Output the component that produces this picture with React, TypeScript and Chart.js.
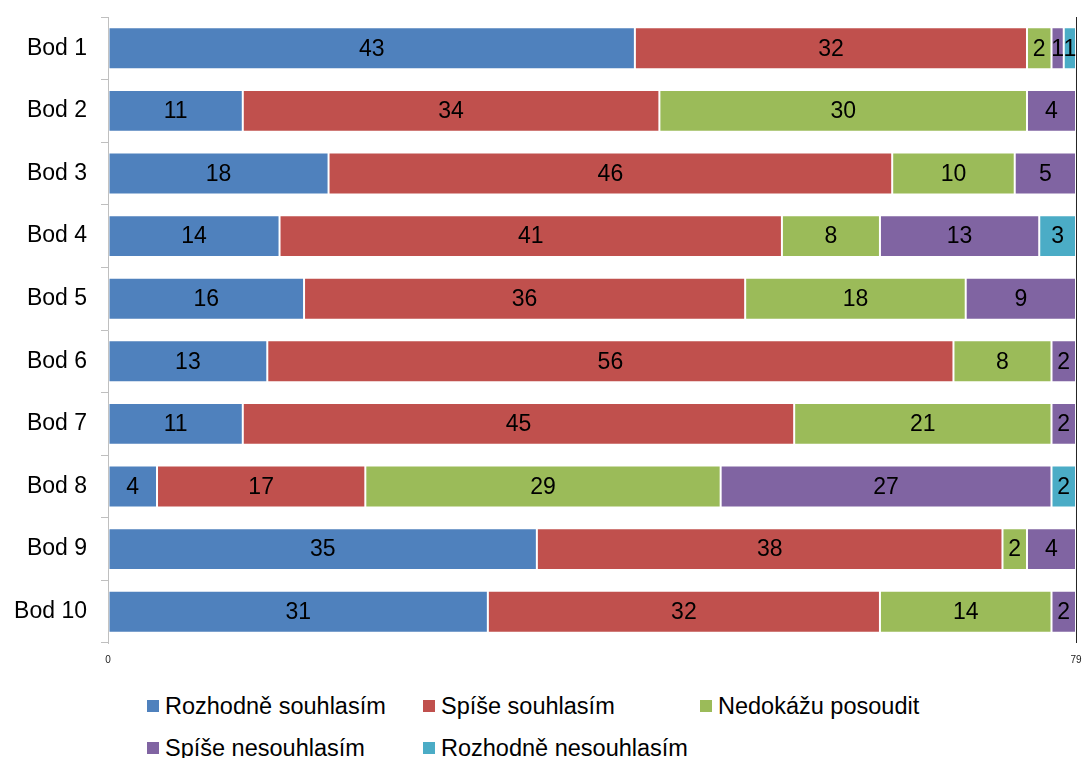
import React, { useEffect, useRef } from "react";
import { Chart, registerables } from "chart.js";

Chart.register(...registerables);

const FONT = '"Liberation Sans", Arial, sans-serif';

const categories = ["Bod 1", "Bod 2", "Bod 3", "Bod 4", "Bod 5", "Bod 6", "Bod 7", "Bod 8", "Bod 9", "Bod 10"];
const seriesNames = ["Rozhodně souhlasím", "Spíše souhlasím", "Nedokážu posoudit", "Spíše nesouhlasím", "Rozhodně nesouhlasím"];
const seriesColors = ["#4F81BD", "#C0504D", "#9BBB59", "#8064A2", "#4BACC6"];

const rozhodneSouhlasim = [43, 11, 18, 14, 16, 13, 11, 4, 35, 31];
const spiseSouhlasim = [32, 34, 46, 41, 36, 56, 45, 17, 38, 32];
const nedokazuPosoudit = [2, 30, 10, 8, 18, 8, 21, 29, 2, 14];
const spiseNesouhlasim = [1, 4, 5, 13, 9, 2, 2, 27, 4, 2];
const rozhodneNesouhlasim = [1, 0, 0, 3, 0, 0, 0, 2, 0, 0];

const xTicks = [0, 79];

const seriesValues = [rozhodneSouhlasim, spiseSouhlasim, nedokazuPosoudit, spiseNesouhlasim, rozhodneNesouhlasim];

const CANVAS_H = 680;

const labelPlugin = {
  id: "segLabels",
  afterDatasetsDraw(chart: any) {
    const ctx = chart.ctx;
    ctx.save();
    ctx.font = `23px ${FONT}`;
    ctx.fillStyle = "#000";
    ctx.textAlign = "center";
    ctx.textBaseline = "middle";
    chart.data.datasets.forEach((ds: any, i: number) => {
      const meta = chart.getDatasetMeta(i);
      meta.data.forEach((el: any, j: number) => {
        const v = ds.data[j];
        if (!v) return;
        const p = el.getProps(["x", "base", "y"], true);
        ctx.fillText(String(v), (p.x + p.base) / 2, p.y + 1);
      });
    });
    ctx.restore();
  },
};

const legendCols = [147, 423, 700];
const legendRows = [705.5, 747.5];

const zeroPad = (s: any) => {
  s.paddingTop = 0;
  s.paddingBottom = 0;
  s.paddingLeft = 0;
  s.paddingRight = 0;
};

export default function App() {
  const ref = useRef<HTMLCanvasElement | null>(null);

  useEffect(() => {
    if (!ref.current) return;
    const chart = new Chart(ref.current, {
      type: "bar",
      data: {
        labels: categories,
        datasets: seriesNames.map((name, i) => ({
          label: name,
          data: seriesValues[i],
          backgroundColor: seriesColors[i],
          borderColor: "rgba(255,255,255,0.3)",
          borderWidth: 1,
          borderSkipped: false,
          categoryPercentage: 1,
          barPercentage: 0.67,
        })),
      },
      options: {
        indexAxis: "y",
        responsive: false,
        animation: false,
        maintainAspectRatio: false,
        layout: { padding: { top: 17, left: 0, right: 8, bottom: 0 } },
        plugins: {
          legend: { display: false },
          tooltip: { enabled: false },
        },
        scales: {
          x: {
            stacked: true,
            min: 0,
            max: 79,
            afterBuildTicks: (s: any) => {
              s.ticks = xTicks.map((v) => ({ value: v }));
            },
            grid: {
              color: (c: any) => (c.tick && c.tick.value === 79 ? "#262626" : "rgba(0,0,0,0)"),
              drawTicks: false,
              lineWidth: 1,
            },
            border: { display: false },
            ticks: {
              color: "#222",
              font: { size: 10, family: FONT },
              padding: 11,
              maxRotation: 0,
              autoSkip: false,
            },
            afterFit: (s: any) => {
              s.height = CANVAS_H - 643;
              zeroPad(s);
            },
          },
          y: {
            stacked: true,
            grid: {
              offset: true,
              drawOnChartArea: false,
              drawTicks: true,
              tickLength: 7,
              color: "#BFBFBF",
            },
            border: { display: true, color: "#BFBFBF", width: 1 },
            ticks: {
              color: "#000",
              font: { size: 23, family: FONT },
              padding: 14,
            },
            afterFit: (s: any) => {
              s.width = 108;
              zeroPad(s);
            },
          },
        },
      },
      plugins: [labelPlugin],
    } as any);
    return () => chart.destroy();
  }, []);

  const items = seriesNames.map((name, i) => {
    const col = i % 3;
    const row = Math.floor(i / 3);
    return (
      <div
        key={name}
        style={{
          position: "absolute",
          left: legendCols[col],
          top: legendRows[row] - 15,
          height: 30,
          display: "flex",
          alignItems: "center",
          whiteSpace: "nowrap",
        }}
      >
        <span
          style={{
            display: "inline-block",
            width: 12,
            height: 12,
            background: seriesColors[i],
            marginRight: 6,
          }}
        />
        <span style={{ fontSize: 23.5, color: "#000", fontFamily: FONT, lineHeight: "30px" }}>{name}</span>
      </div>
    );
  });

  return (
    <div
      style={{
        position: "absolute",
        left: 0,
        top: 0,
        width: 1084,
        height: 758,
        background: "#fff",
        overflow: "hidden",
      }}
    >
      <canvas ref={ref} width={1084} height={CANVAS_H} style={{ display: "block", width: 1084, height: CANVAS_H }} />
      {items}
    </div>
  );
}
